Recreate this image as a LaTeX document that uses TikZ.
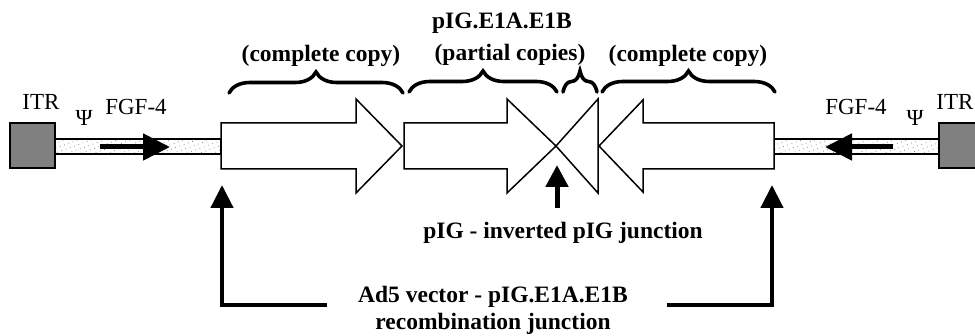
\documentclass[tikz,border=0pt]{standalone}
\usepackage{fontspec}
\setmainfont{Liberation Serif}
\usetikzlibrary{arrows.meta,decorations.pathreplacing,patterns.meta}
\begin{document}
\begin{tikzpicture}[x=1pt,y=-1pt,
  txt/.style={font=\fontsize{23}{27}\selectfont, inner sep=0pt, anchor=base},
  btxt/.style={font=\fontsize{23.5}{27}\selectfont\bfseries, inner sep=0pt, anchor=base},
  bigarrow/.style={draw=black, fill=white, line width=1.5pt, line join=miter},
  tube/.style={draw=black, line width=2pt, preaction={fill=white}, pattern={Dots[distance=4.5pt,radius=0.5pt,angle=20]}, pattern color=black!50},
  itrbox/.style={draw=black, fill=black!50, line width=2pt},
  tubearrow/.style={line width=5pt, -{Triangle[length=27pt,width=26pt]}},
  junctionarrow/.style={line width=4.5pt, -{Triangle[length=23pt,width=22pt]}},
  bracestyle/.style={line width=3.6pt, line cap=round, decorate, decoration={brace, amplitude=21pt}},
]
\useasboundingbox (0,0) rectangle (975,336);

% ITR boxes and tubes
\draw[itrbox] (10,123) rectangle (55,168);
\draw[tube] (55,139) rectangle (221,154);
\draw[tube] (774,139) rectangle (939,154);
\draw[itrbox] (939,123) rectangle (985,168);

% arrows inside the tubes
\coordinate (lt0) at (100,147);
\coordinate (lt1) at (170,147);
\draw[tubearrow] (lt0) -- (lt1);
\coordinate (rt0) at (893,147);
\coordinate (rt1) at (825,147);
\draw[tubearrow] (rt0) -- (rt1);

% big block arrows
\draw[bigarrow] (221,123) -- (356,123) -- (356,99) -- (402,146) -- (356,193) -- (356,169) -- (221,169) -- cycle;
\draw[bigarrow] (404,123) -- (507,123) -- (507,99) -- (556,146) -- (507,193) -- (507,169) -- (404,169) -- cycle;
\draw[bigarrow] (598,99) -- (556,146) -- (598,193) -- cycle;
\draw[bigarrow] (599,146) -- (643,100) -- (643,123) -- (774,123) -- (774,169) -- (643,169) -- (643,192) -- cycle;

% braces
\draw[bracestyle] (229,93) -- (403,93);
\draw[bracestyle] (409,92) -- (557,92);
\draw[bracestyle] (563,92) -- (597,92);
\draw[bracestyle] (602,92) -- (775,92);

% labels
\node[txt] (itrL) at (41,110) {ITR};
\node[txt] (psiL) at (84,126) {Ψ};
\node[txt] (fgfL) at (136,115) {FGF-4};
\node[txt] (fgfR) at (856,115) {FGF-4};
\node[txt] (psiR) at (915,126) {Ψ};
\node[txt] (itrR) at (955,110) {ITR};

\node[btxt] (title) at (502,29) {pIG.E1A.E1B};
\node[btxt] (cc1) at (321,62) {(complete copy)};
\node[btxt] (pc) at (510,61) {(partial copies)};
\node[btxt] (cc2) at (688,62) {(complete copy)};
\node[btxt] (inv) at (563,239) {pIG - inverted pIG junction};
\node[btxt] (ad5) at (493,303) {Ad5 vector - pIG.E1A.E1B};
\node[btxt] (rec) at (493,330) {recombination junction};

% junction arrows
\coordinate (m0) at (557,208);
\coordinate (m1) at (557,165);
\draw[line width=5pt, -{Triangle[length=22pt,width=22pt]}] (m0) -- (m1);

\coordinate (la0) at (327,305);
\coordinate (la1) at (222,305);
\coordinate (la2) at (222,185);
\draw[junctionarrow] (la0) -- (la1) -- (la2);
\coordinate (ra0) at (667,305);
\coordinate (ra1) at (772,305);
\coordinate (ra2) at (772,185);
\draw[junctionarrow] (ra0) -- (ra1) -- (ra2);
\end{tikzpicture}
\end{document}
